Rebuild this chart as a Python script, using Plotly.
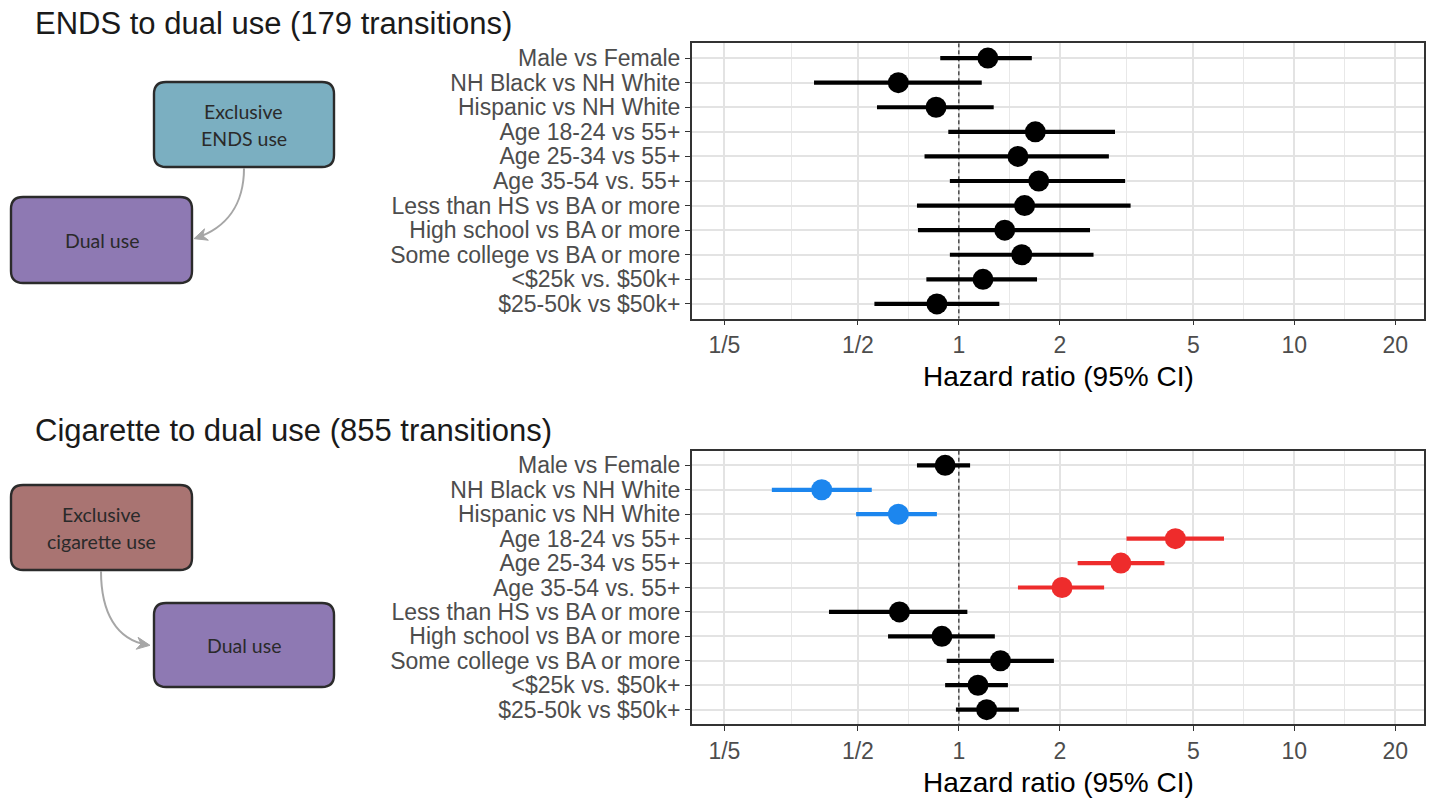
import math
import plotly.graph_objects as go

# ---------------- data ----------------
labels = ["Male vs Female", "NH Black vs NH White", "Hispanic vs NH White",
          "Age 18-24 vs 55+", "Age 25-34 vs 55+", "Age 35-54 vs. 55+",
          "Less than HS vs BA or more", "High school vs BA or more",
          "Some college vs BA or more", "<$25k vs. $50k+", "$25-50k vs $50k+"]

ends_hr = [1.22, 0.66, 0.855, 1.69, 1.50, 1.73, 1.57, 1.37, 1.54, 1.18, 0.86]
ends_lo = [0.88, 0.37, 0.57, 0.93, 0.79, 0.94, 0.75, 0.755, 0.94, 0.80, 0.56]
ends_hi = [1.65, 1.17, 1.27, 2.92, 2.80, 3.13, 3.25, 2.46, 2.52, 1.71, 1.32]
ends_sig = ["none"] * 11

cig_hr = [0.91, 0.39, 0.66, 4.42, 3.04, 2.03, 0.665, 0.89, 1.33, 1.14, 1.21]
cig_lo = [0.75, 0.277, 0.494, 3.16, 2.26, 1.50, 0.41, 0.615, 0.92, 0.91, 0.98]
cig_hi = [1.08, 0.55, 0.86, 6.17, 4.10, 2.71, 1.06, 1.28, 1.92, 1.40, 1.51]
cig_sig = ["none", "lower", "lower", "higher", "higher", "higher",
           "none", "none", "none", "none", "none"]

x_tickvals = [0.2, 0.5, 1, 2, 5, 10, 20]
x_ticktext = ["1/5", "1/2", "1", "2", "5", "10", "20"]

titles = ["ENDS to dual use (179 transitions)", "Cigarette to dual use (855 transitions)"]
axis_title = "Hazard ratio (95% CI)"

sig_colors = {"none": "#000000", "lower": "#1C86EE", "higher": "#EE2C2C"}

# ---------------- layout helpers ----------------
W, H = 1438, 800


def px(x):
    return x / W


def py(y):
    return 1 - y / H


panel_x = (691.7, 1424.3)
panels_y = [(43.3, 318.7), (450.7, 724.3)]

fig = go.Figure()

panels = [(ends_hr, ends_lo, ends_hi, ends_sig), (cig_hr, cig_lo, cig_hi, cig_sig)]
rows = list(range(len(labels)))

for p, (hr, lo, hi, sig) in enumerate(panels):
    xa = "x" if p == 0 else "x2"
    ya = "y" if p == 0 else "y2"
    # reference line at HR = 1
    fig.add_trace(go.Scatter(x=[1, 1], y=[-0.6, len(labels) - 0.4], mode="lines",
                             line=dict(color="#000000", width=1, dash="4px,3px"),
                             xaxis=xa, yaxis=ya, showlegend=False, hoverinfo="skip"))
    for key in ["none", "lower", "higher"]:
        idx = [i for i in rows if sig[i] == key]
        if not idx:
            continue
        fig.add_trace(go.Scatter(
            x=[hr[i] for i in idx], y=[rows[i] for i in idx], mode="markers",
            marker=dict(color=sig_colors[key], size=21, line=dict(width=0)),
            error_x=dict(type="data", symmetric=False,
                         array=[hi[i] - hr[i] for i in idx],
                         arrayminus=[hr[i] - lo[i] for i in idx],
                         color=sig_colors[key], thickness=4.2, width=0),
            xaxis=xa, yaxis=ya, showlegend=False))

xlo = math.log10(0.1598)
xhi = math.log10(24.4)
minor_vals = [math.sqrt(a * b) for a, b in zip(x_tickvals[:-1], x_tickvals[1:])]

tick_font = dict(family="Liberation Sans, Arial, sans-serif", size=23, color="#4D4D4D")

common_x = dict(type="log", range=[xlo, xhi], tickvals=x_tickvals, ticktext=x_ticktext,
                tickfont=tick_font, ticks="outside", ticklen=5, tickcolor="#333333",
                tickwidth=1.2, showline=True, mirror=True, linecolor="#333333",
                linewidth=1.5, showgrid=True, gridcolor="#E3E3E3", gridwidth=1.6,
                zeroline=False, automargin=False,
                minor=dict(tickvals=minor_vals, showgrid=True, gridcolor="#E8E8E8",
                           gridwidth=1.1, ticks=""),
                domain=[px(panel_x[0]), px(panel_x[1])])
common_y = dict(tickvals=rows, ticktext=[l.replace("<", "&lt;") for l in labels],
                range=[len(labels) - 0.4, -0.6], tickfont=tick_font, ticks="outside",
                ticklen=5, tickcolor="#333333", tickwidth=1.2, showline=True,
                mirror=True, linecolor="#333333", linewidth=1.5, showgrid=True,
                gridcolor="#E3E3E3", gridwidth=1.6, zeroline=False, automargin=False)

fig.update_layout(
    width=W, height=H, autosize=False,
    margin=dict(l=0, r=0, t=0, b=0),
    paper_bgcolor="white", plot_bgcolor="white",
    xaxis=dict(common_x, anchor="y"),
    yaxis=dict(common_y, anchor="x", domain=[py(panels_y[0][1]), py(panels_y[0][0])]),
    xaxis2=dict(common_x, anchor="y2"),
    yaxis2=dict(common_y, anchor="x2", domain=[py(panels_y[1][1]), py(panels_y[1][0])]),
    showlegend=False,
)

annotations = []
shapes = []
# titles & axis titles
for p, (top, bot) in enumerate(panels_y):
    annotations.append(dict(text=titles[p], x=px(33), y=py(top - 20), xref="paper",
                            yref="paper", xanchor="left", yanchor="middle", showarrow=False,
                            font=dict(family="Liberation Sans, Arial, sans-serif", size=31,
                                      color="#1A1A1A")))
    annotations.append(dict(text=axis_title, x=px((panel_x[0] + panel_x[1]) / 2),
                            y=py(bot + 58), xref="paper", yref="paper", xanchor="center",
                            yanchor="middle", showarrow=False,
                            font=dict(family="Liberation Sans, Arial, sans-serif", size=28,
                                      color="#000000")))


def rrect(x0, y0, x1, y1, r=12):
    pts = f"M {px(x0 + r)},{py(y0)} L {px(x1 - r)},{py(y0)} Q {px(x1)},{py(y0)} {px(x1)},{py(y0 + r)} "
    pts += f"L {px(x1)},{py(y1 - r)} Q {px(x1)},{py(y1)} {px(x1 - r)},{py(y1)} "
    pts += f"L {px(x0 + r)},{py(y1)} Q {px(x0)},{py(y1)} {px(x0)},{py(y1 - r)} "
    pts += f"L {px(x0)},{py(y0 + r)} Q {px(x0)},{py(y0)} {px(x0 + r)},{py(y0)} Z"
    return pts


boxes = [
    (154, 82, 334, 167, "#7BAFC1", ["Exclusive", "ENDS use"]),
    (11, 197, 192, 283, "#8E79B3", ["Dual use"]),
    (11, 485, 192, 570, "#A97472", ["Exclusive", "cigarette use"]),
    (154, 603, 334, 687, "#8E79B3", ["Dual use"]),
]
box_font = dict(family="Lato, Noto Sans, sans-serif", size=19.5, color="#2A2A2A")
for x0, y0, x1, y1, fill, lines in boxes:
    shapes.append(dict(type="path", path=rrect(x0, y0, x1, y1), xref="paper", yref="paper",
                       fillcolor=fill, line=dict(color="#2B2B2B", width=2.4), layer="above"))
    cy = (y0 + y1) / 2
    n = len(lines)
    for k, t in enumerate(lines):
        yy = cy + (k - (n - 1) / 2) * 27
        annotations.append(dict(text=t, x=px((x0 + x1) / 2), y=py(yy), xref="paper",
                                yref="paper", xanchor="center", yanchor="middle",
                                showarrow=False, font=box_font))


def curved_arrow(p0, c1, c2, p1, color="#A6A6A6"):
    path = (f"M {px(p0[0])},{py(p0[1])} C {px(c1[0])},{py(c1[1])} "
            f"{px(c2[0])},{py(c2[1])} {px(p1[0])},{py(p1[1])}")
    shapes.append(dict(type="path", path=path, xref="paper", yref="paper",
                       line=dict(color=color, width=2), layer="above"))
    dx, dy = p1[0] - c2[0], p1[1] - c2[1]
    d = math.hypot(dx, dy)
    ux, uy = dx / d, dy / d
    L, hw = 13, 6
    tip = (p1[0] + ux * 2, p1[1] + uy * 2)
    bx, by = tip[0] - ux * L, tip[1] - uy * L
    a = (bx - uy * hw, by + ux * hw)
    b = (bx + uy * hw, by - ux * hw)
    head = (f"M {px(tip[0])},{py(tip[1])} L {px(a[0])},{py(a[1])} "
            f"L {px(bx + ux * 4)},{py(by + uy * 4)} L {px(b[0])},{py(b[1])} Z")
    shapes.append(dict(type="path", path=head, xref="paper", yref="paper",
                       fillcolor=color, line=dict(color=color, width=1), layer="above"))


curved_arrow((244, 168), (244, 205), (226, 228), (196, 238))
curved_arrow((101, 571), (101, 612), (116, 640), (148, 645))

fig.update_layout(annotations=annotations, shapes=shapes)

fig.write_html("out.html")
